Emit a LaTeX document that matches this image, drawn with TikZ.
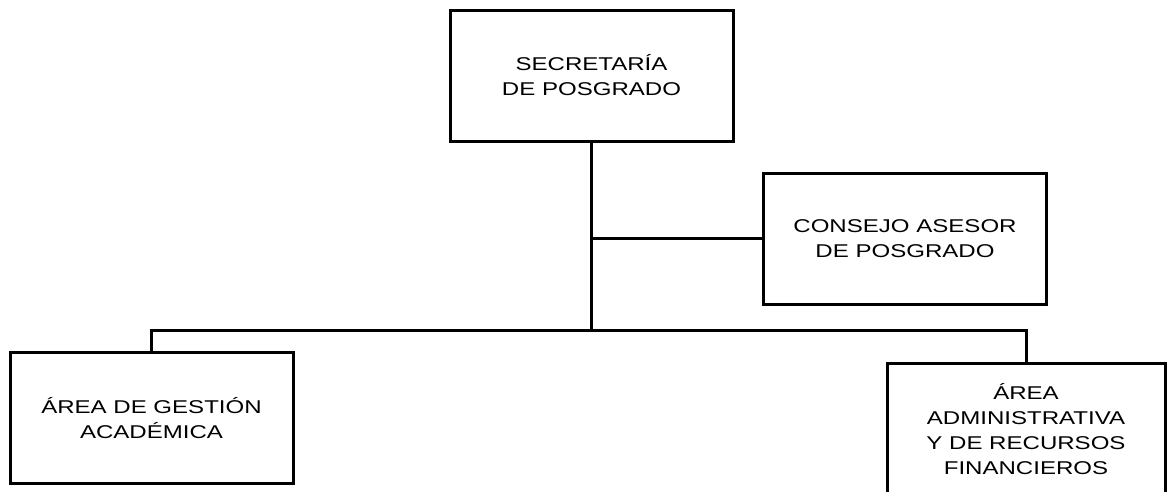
\documentclass[tikz,border=0pt]{standalone}
\usepackage{fontspec}
\newfontfamily\orgfont[FakeStretch=1.3]{Liberation Sans}
\begin{document}
\begin{tikzpicture}[x=1pt, y=-1pt, line width=3pt,
		unidad/.style={draw, align=center, inner sep=0pt, minimum width=283pt, minimum height=131pt,
			font=\orgfont\fontsize{18.5}{25}\selectfont}]
				\useasboundingbox (0,0) rectangle (1167,491);
				
				\node[unidad] (secretaria) at (591.5,75.5) {SECRETARÍA\\DE POSGRADO};
				\node[unidad] (consejo) at (905,238.5) {CONSEJO ASESOR\\DE POSGRADO};
				\node[unidad] (gestion) at (151.5,418) {ÁREA DE GESTIÓN\\ACADÉMICA};
				\node[unidad, minimum width=278pt, minimum height=133pt] (administrativa) at (1026,429.5) {ÁREA\\ADMINISTRATIVA\\Y DE RECURSOS\\FINANCIEROS};
				
				\coordinate (bus) at (591.5,330);
				
				\draw (secretaria.south) -- (bus);
				\draw (consejo.west) -- (consejo.west -| secretaria.south);
				\draw (gestion.north) |- (bus) -| (administrativa.north);
				
		\end{tikzpicture}
\end{document}
